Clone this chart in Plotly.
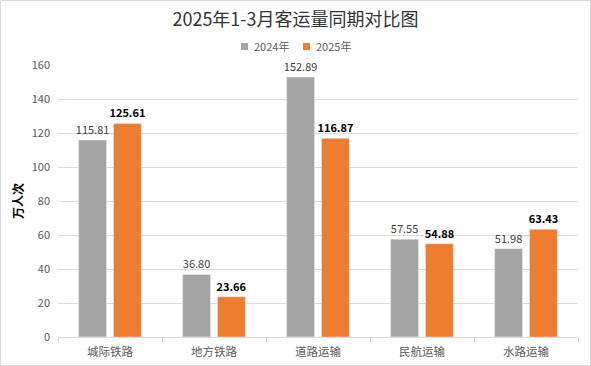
import plotly.graph_objects as go

categories = ["城际铁路", "地方铁路", "道路运输", "民航运输", "水路运输"]
v2024 = [115.81, 36.80, 152.89, 57.55, 51.98]
v2025 = [125.61, 23.66, 116.87, 54.88, 63.43]
y_ticks = [0, 20, 40, 60, 80, 100, 120, 140, 160]
series_names = ["2024年", "2025年"]
series_colors = ["#A5A5A5", "#ED7D31"]

font = "Noto Sans CJK SC, Microsoft YaHei, sans-serif"

fig = go.Figure()
fig.add_trace(go.Bar(
    x=categories, y=v2024, name=series_names[0], marker_color=series_colors[0],
    text=[f"{v:.2f}" for v in v2024], textposition="outside", constraintext="none",
    textfont=dict(size=11, color="#404040", family=font), cliponaxis=False,
))
fig.add_trace(go.Bar(
    x=categories, y=v2025, name=series_names[1], marker_color=series_colors[1],
    text=[f"<b>{v:.2f}</b>" for v in v2025], textposition="outside", constraintext="none",
    textfont=dict(size=11, color="#000000", family=font), cliponaxis=False,
))

W, L, T, B = 520, 58, 65, 29
H = 272
def px_x(px):
    return (px - L) / W
def px_y(py):
    return (337 - py) / H

shapes = [dict(type="rect", xref="paper", yref="paper", x0=px_x(0.5), x1=px_x(590.5), y0=px_y(365.5), y1=px_y(0.5),
               line=dict(color="#D9D9D9", width=1), fillcolor="rgba(0,0,0,0)")]
annotations = []
# manual legend
legend_sq_x = [241, 303]
for name, color, sx in zip(series_names, series_colors, legend_sq_x):
    shapes.append(dict(type="rect", xref="paper", yref="paper", x0=px_x(sx), x1=px_x(sx + 7),
                       y0=px_y(50), y1=px_y(43), line=dict(width=0), fillcolor=color))
    annotations.append(dict(text=name, xref="paper", yref="paper", x=px_x(sx + 11), y=px_y(46.5),
                            xanchor="left", yanchor="middle", showarrow=False,
                            font=dict(size=11, color="#595959", family=font)))

fig.update_layout(
    width=591, height=366,
    margin=dict(l=L, r=13, t=T, b=B),
    paper_bgcolor="white", plot_bgcolor="white",
    font=dict(family=font, color="#595959"),
    title=dict(text="2025年1-3月客运量同期对比图", x=0.5, xanchor="center", y=1 - 20/366, yanchor="middle",
               font=dict(size=18, color="#333333", family=font)),
    showlegend=False,
    barmode="group", bargap=0.33, bargroupgap=0.2,
    shapes=shapes, annotations=annotations,
)
fig.update_xaxes(
    showline=True, linecolor="#D9D9D9", linewidth=1, automargin=False,
    ticks="outside", tickson="boundaries", ticklen=5, tickcolor="#D9D9D9",
    tickfont=dict(size=11.5, color="#595959"), showgrid=False, ticklabelstandoff=4,
)
fig.update_yaxes(
    range=[0, 160], tickvals=y_ticks, showgrid=True, gridcolor="#D9D9D9", gridwidth=1, automargin=False,
    zeroline=False, showline=False, tickfont=dict(size=11, color="#595959"), ticklabelstandoff=7,
    title=dict(text="<b>万人次</b>", font=dict(size=12, color="#000000"), standoff=5),
)

fig.write_html("out.html", config={"displayModeBar": False},
               post_script="document.body.style.margin='0';document.body.style.overflow='hidden';")
